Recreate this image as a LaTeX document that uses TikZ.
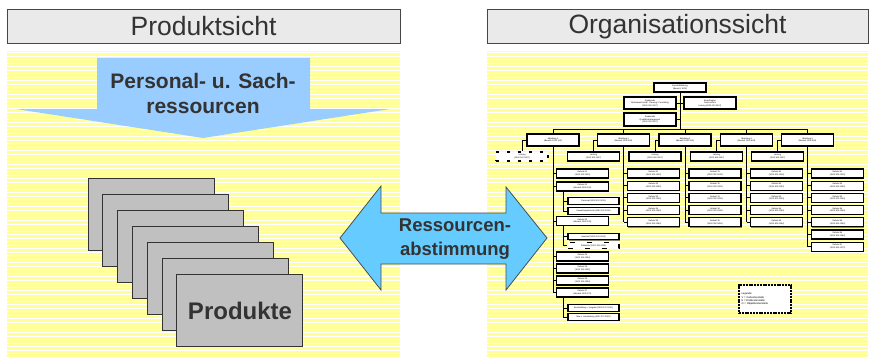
\documentclass[tikz,border=0pt]{standalone}
\usepackage{fontspec}
\setmainfont{Liberation Sans}
\usetikzlibrary{shadows,calc}
\definecolor{yel}{RGB}{255,255,150}
\definecolor{hdr}{RGB}{234,234,234}
\definecolor{hdrline}{RGB}{70,70,70}
\definecolor{txt}{RGB}{51,51,51}
\definecolor{blueA}{RGB}{153,204,255}
\definecolor{blueB}{RGB}{102,204,255}
\definecolor{cardc}{RGB}{192,192,192}
\newcommand\tinyf{\fontsize{2.1}{2.5}\selectfont}
\tikzset{
  header/.style={draw=hdrline, fill=hdr, line width=0.9pt},
  htext/.style={text=txt, font=\fontsize{26.5}{30}\selectfont, inner sep=0pt},
  btext/.style 2 args={text=txt, font=\bfseries\fontsize{#1}{#2}\selectfont, align=center, inner sep=0pt},
  cardbox/.style={draw=black!80, fill=cardc, line width=1pt},
  obox/.style={draw=black, fill=white, line width=1.1pt, inner sep=0pt,
    minimum width=52pt, minimum height=9pt, font=\tinyf, align=center,
    drop shadow={shadow xshift=0.8pt, shadow yshift=-0.8pt, fill=black!60, opacity=0.8}},
  sbox/.style={obox, minimum width=51pt, minimum height=6.5pt},
  conn/.style={draw=black, line width=0.9pt},
}
\begin{document}
\begin{tikzpicture}[x=1pt,y=-1pt]
\useasboundingbox[fill=white] (0,0) rectangle (869,361);

% ---------- headers ----------
\draw[header] (7,9) rectangle (400,43);
\node[htext] (hl) at (203.5,26.5) {Produktsicht};
\draw[header] (487,9) rectangle (868,43);
\node[htext] (hr) at (677.5,26.5) {Organisationssicht};

% ---------- striped areas ----------
\fill[yel] (7,51) rectangle (400,358);
\fill[yel] (487,51) rectangle (868,358);
\foreach \y in {52.5,56,...,357} {
  \draw[white, line width=0.9pt] (7,\y) -- (400,\y);
  \draw[white, line width=0.9pt] (487,\y) -- (868,\y);
}

% ---------- down arrow ----------
\fill[blueA] (97,58) -- (310,58) -- (310,109) -- (390,109) -- (203,138) -- (16,109) -- (97,109) -- cycle;
\node[btext={21}{25}] (pers) at (203,93) {Personal- u. Sach-\\ressourcen};

% ---------- product cards ----------
\foreach \i in {0,...,6} {
  \draw[cardbox] ({88+14.83*\i},{178+16*\i}) rectangle ++(126,72);
}
\node[btext={24}{28}] (prod) at (240,311) {Produkte};

% ---------- double arrow ----------
\draw[fill=blueB, draw=black!70, line width=0.8pt]
  (340,238) -- (381,186) -- (381,213) -- (506,213) -- (506,187) -- (547,238)
  -- (506,290) -- (506,264) -- (381,264) -- (381,290) -- cycle;
\node[btext={18.5}{24}] (abst) at (455,239) {Ressourcen-\\abstimmung};

% ---------- org chart ----------
\coordinate (barL) at (553,129);
\coordinate (barR) at (807.5,129);
\node[obox] (gf) at (680,87.5) {Geschäftsleitung\\(Bereich 1000)};
\node[obox, minimum height=12pt] (st1) at (650,103) {Stabsstelle\\Betriebswirtschaft. Planung / Controlling\\(1000 000 0007)};
\node[obox, minimum height=12pt] (st2) at (710,103) {Beauftragter\\Datenschutz\\Leitung (1000 000 0007)};
\node[obox, minimum height=13pt] (st3) at (650,119.5) {Stabsstelle\\Qualitätsmanagement\\(1000 000 0007)};
\draw[conn] (gf.south) -- (gf.south |- barL);
\draw[conn] (st1.east) -- (st2.west);
\draw[conn] (st3.east) -- (st3.east -| gf.south);
\draw[conn] (barL) -- (barR);

\node[obox, minimum height=12pt] (a1) at (553,140) {Abteilung 1\\(Bereich 1000 100)};
\node[obox, minimum height=12pt] (a2) at (623.5,140) {Abteilung 2\\(Bereich 1000 200)};
\node[obox, minimum height=12pt] (a3) at (685,140) {Abteilung 3\\(Bereich 1000 300)};
\node[obox, minimum height=12pt] (a4) at (746.5,140) {Abteilung 4\\(Bereich 1000 400)};
\node[obox, minimum height=12pt] (a5) at (807.5,140) {Abteilung 5\\(Bereich 1000 500)};
\foreach \k in {1,...,5} { \draw[conn] (a\k.north) -- (a\k.north |- barL); }

% Leitung boxes
\node[draw=black, fill=white, line width=1.2pt, dash pattern=on 3pt off 8pt, inner sep=0pt,
  minimum width=52pt, minimum height=9pt, font=\tinyf, align=center] (l1) at (522,156.5) {Leitung\\(1000 100 0007)};
\node[obox] (l2) at (593.5,156.5) {Leitung\\(1000 200 0007)};
\node[obox] (l3) at (655,156.5) {Leitung\\(1000 300 0007)};
\node[obox] (l4) at (716.5,156.5) {Leitung\\(1000 400 0007)};
\node[obox] (l5) at (777.5,156.5) {Leitung\\(1000 500 0007)};
\foreach \k in {1,...,5} { \draw[conn] (a\k.west) -| (l\k.north); }

% Column 1
\node[obox] (b1) at (582.5,173.5) {Referat 11\\(1000 100 0010)};
\node[obox] (b2) at (582.5,186.5) {Referat 12\\(Bereich 1000 120)};
\node[sbox] (s1) at (593.5,201) {Personal (1000 120 0010)};
\node[sbox] (s2) at (593.5,211) {Verwaltungstechnik (1000 120 0020)};
\node[obox, minimum height=8.5pt] (b3) at (582.5,221) {Referat 13\\(Bereich 1000 130)};
\node[sbox] (s3) at (593.5,236.5) {Haushalt (1000 130 0010)};
\node[draw=black, fill=white, line width=1.2pt, dash pattern=on 5pt off 12pt, inner sep=0pt,
  minimum width=51pt, minimum height=6.5pt, font=\tinyf] (s4) at (593.5,245.5) {Zahlstelle (1000 130 0020)};
\node[obox] (b4) at (582.5,256.5) {Referat 14\\(1000 100 0040)};
\node[obox] (b5) at (582.5,268.5) {Referat 15\\(1000 100 0050)};
\node[obox] (b6) at (582.5,280.5) {Referat 16\\(1000 100 0060)};
\node[obox] (b7) at (582.5,292.5) {Referat 17\\(Bereich 1000 170)};
\node[sbox] (s5) at (593.5,308) {Beschaffung u. Vergabe (1000 170 0010)};
\node[sbox] (s6) at (593.5,317) {Bau u. Ausstattung (1000 170 0020)};
\foreach \k in {1,...,7} { \draw[conn] (b\k.west) -- (b\k.west -| a1.south); }
\draw[conn] (a1.south) -- (a1.south |- b7.west);
\draw[conn] ([xshift=-19.5pt]b2.south) |- (s1.west);
\draw[conn] ([xshift=-19.5pt]b2.south) |- (s2.west);
\draw[conn] ([xshift=-19.5pt]b3.south) |- (s3.west);
\draw[conn] ([xshift=-19.5pt]b3.south) |- (s4.west);
\draw[conn] ([xshift=-19.5pt]b7.south) |- (s5.west);
\draw[conn] ([xshift=-19.5pt]b7.south) |- (s6.west);

% Columns 2-5
\foreach \c/\t/\n in {2/623.5/5,3/685/5,4/746.5/5,5/807.5/7} {
  \foreach \i in {1,...,\n} {
    \node[obox] (r\c\i) at ({\t+30},{173.5+12.2*(\i-1)}) {Referat \c\i\\(1000 \c00 00\i0)};
    \draw[conn] (r\c\i.west) -- (r\c\i.west -| a\c.south);
  }
  \draw[conn] (a\c.south) -- (a\c.south |- r\c\n.west);
}

% Legend
\node[draw=black, fill=white, line width=1.3pt, dash pattern=on 2pt off 0.8pt, inner sep=2pt,
  minimum width=52pt, minimum height=28pt, text width=47pt, align=left,
  font=\fontsize{2.6}{3.3}\selectfont] (leg) at (765,299)
  {Legende:\\V = Vorkostenstelle\\E = Endkostenstelle\\O = Objektkostenstelle};
\end{tikzpicture}
\end{document}
